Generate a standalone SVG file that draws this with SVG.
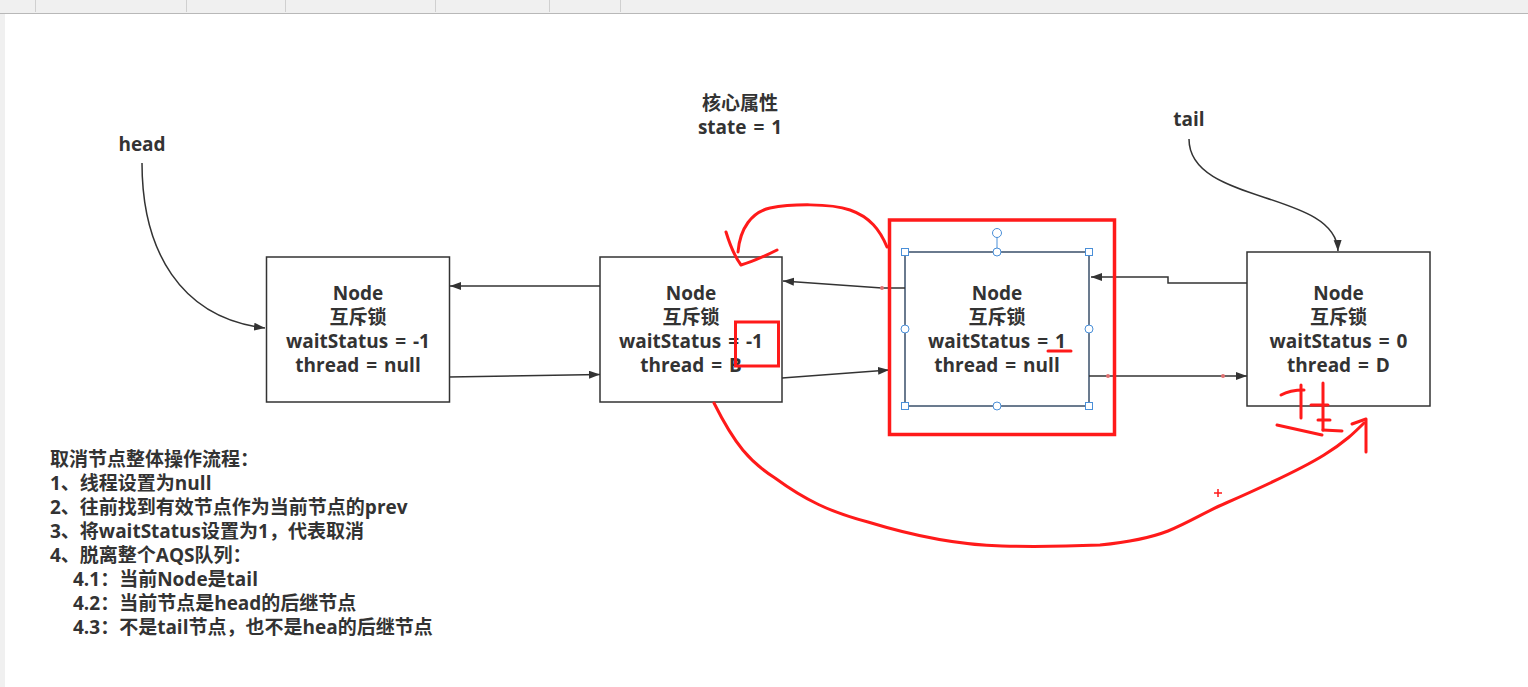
<svg xmlns="http://www.w3.org/2000/svg" width="1528" height="687" viewBox="0 0 1528 687">
<style>
.txt{font-family:"Open Sans","Noto Sans CJK SC",sans-serif;font-weight:bold;font-size:19px;fill:#333}
.ctr{text-anchor:middle}
.ws{word-spacing:2px}
.box{fill:#fff;stroke:#333;stroke-width:1.5}
.con{fill:none;stroke:#333;stroke-width:1.5}
.red{fill:none;stroke:#ff1a1a;stroke-width:3;stroke-linecap:round;stroke-linejoin:round}
.hs{fill:#fff;stroke:#4a8fd8;stroke-width:1}
.dot{fill:#e07070}
</style>
<defs>
<marker id="ah" markerUnits="userSpaceOnUse" markerWidth="12" markerHeight="9" refX="11" refY="4" orient="auto">
<path d="M0,0 L11,4 L0,8 z" fill="#333"/>
</marker>
</defs>
<rect x="0" y="0" width="1528" height="687" fill="#fff"/>
<g id="toolbar">
<rect x="0" y="0" width="1528" height="13" fill="#f0f0f0"/>
<rect x="0" y="13" width="5" height="674" fill="#f0f0f0"/>
<line x1="0" y1="13.5" x2="1528" y2="13.5" stroke="#b8b8b8" stroke-width="1"/>
<g stroke="#d0d0d0" stroke-width="1">
<line x1="35.5" y1="0" x2="35.5" y2="12"/>
<line x1="186.5" y1="0" x2="186.5" y2="12"/>
<line x1="285.5" y1="0" x2="285.5" y2="12"/>
<line x1="435.5" y1="0" x2="435.5" y2="12"/>
<line x1="549.5" y1="0" x2="549.5" y2="12"/>
<line x1="620.5" y1="0" x2="620.5" y2="12"/>
</g>
</g>

<g id="labels">
<text class="txt ctr" x="142" y="151">head</text>
<text class="txt ctr" x="1189" y="126">tail</text>
<text class="txt ctr" x="740" y="110">核心属性</text>
<text class="txt ctr ws" x="740" y="134">state = 1</text>
</g>

<g id="node1">
<rect class="box" x="266.5" y="257" width="183" height="145"/>
<text class="txt ctr" x="358" y="300">Node</text>
<text class="txt ctr" x="358" y="324">互斥锁</text>
<text class="txt ctr ws" x="358" y="348">waitStatus = -1</text>
<text class="txt ctr ws" x="358" y="372">thread = null</text>
</g>

<g id="node2">
<rect class="box" x="600" y="257" width="182" height="145"/>
<text class="txt ctr" x="691" y="300">Node</text>
<text class="txt ctr" x="691" y="324">互斥锁</text>
<text class="txt ctr ws" x="691" y="348">waitStatus = -1</text>
<text class="txt ctr ws" x="691" y="372">thread = B</text>
</g>

<g id="node3">
<rect x="905" y="252" width="184" height="154" fill="#fff" stroke="#3a4f6a" stroke-width="1.5"/>
<text class="txt ctr" x="997" y="300">Node</text>
<text class="txt ctr" x="997" y="324">互斥锁</text>
<text class="txt ctr ws" x="997" y="348">waitStatus = 1</text>
<text class="txt ctr ws" x="997" y="372">thread = null</text>
<line x1="997" y1="237" x2="997" y2="252" stroke="#4a8fd8" stroke-width="1"/>
<circle class="hs" cx="997" cy="233" r="4.5"/>
<rect class="hs" x="901.5" y="248.5" width="7" height="7"/>
<rect class="hs" x="1085.5" y="248.5" width="7" height="7"/>
<rect class="hs" x="901.5" y="402.5" width="7" height="7"/>
<rect class="hs" x="1085.5" y="402.5" width="7" height="7"/>
<circle class="hs" cx="997" cy="252" r="4"/>
<circle class="hs" cx="997" cy="406" r="4"/>
<circle class="hs" cx="905" cy="329" r="4"/>
<circle class="hs" cx="1089" cy="329" r="4"/>
</g>

<g id="node4">
<rect class="box" x="1247" y="252" width="183" height="154"/>
<text class="txt ctr" x="1338.5" y="300">Node</text>
<text class="txt ctr" x="1338.5" y="324">互斥锁</text>
<text class="txt ctr ws" x="1338.5" y="348">waitStatus = 0</text>
<text class="txt ctr ws" x="1338.5" y="372">thread = D</text>
</g>

<g id="connectors">
<path class="con" d="M142,163 C142,250 180,318 265,328" marker-end="url(#ah)"/>
<path class="con" d="M600,286 L450,286" marker-end="url(#ah)"/>
<path class="con" d="M449,377 L600,374.5" marker-end="url(#ah)"/>
<path class="con" d="M905,288 L882,288 L783,281" marker-end="url(#ah)"/>
<path class="con" d="M782,378 L889,370" marker-end="url(#ah)"/>
<path class="con" d="M1247,283 L1168,283 L1168,277 L1091,277" marker-end="url(#ah)"/>
<path class="con" d="M1089,376 L1247,376" marker-end="url(#ah)"/>
<path class="con" d="M1189,139 C1189,205 1336,190 1338,251" marker-end="url(#ah)"/>
<circle class="dot" cx="882" cy="288" r="2"/>
<circle class="dot" cx="1108" cy="376" r="2"/>
<circle class="dot" cx="1223" cy="376" r="2"/>
</g>

<g id="annotations">
<rect x="889.5" y="220" width="225" height="214.5" fill="none" stroke="#ff1a1a" stroke-width="3.5"/>
<rect x="735.5" y="322" width="43" height="44" fill="none" stroke="#ff1a1a" stroke-width="3"/>
<path class="red" d="M1048,351 L1071,351"/>
<path class="red" d="M887,247 C880,230 870,217 850,210 C830,203 790,204 770,208 C752,212 740,228 738,252"/>
<path class="red" d="M726,232 C730,245 735,257 741,265 C752,262 765,256 777,250"/>
<path class="red" d="M714,403 C735,445 750,462 775,478 C805,500 830,512 868,522 C920,538 960,545 1002,546 C1040,547 1075,546 1100,545 C1130,542 1150,538 1168,531 C1190,522 1205,512 1226,503 C1260,488 1300,470 1324,455 C1345,442 1355,432 1364,423"/>
<path class="red" d="M1352,424 L1366,419 L1366,452"/>
<path d="M1214,493 L1222,493 M1218,489 L1218,497" stroke="#ff1a1a" stroke-width="1.5" fill="none"/>
<path class="red" d="M1281,395 C1288,391 1295,390 1304,390"/>
<path class="red" d="M1301,385 L1301,418"/>
<path class="red" d="M1323,383 L1323,430"/>
<path class="red" d="M1311,405 L1328,405"/>
<path class="red" d="M1318,420 L1330,420"/>
<path class="red" d="M1323,430 L1342,431"/>
<path class="red" d="M1277,425 L1322,435"/>
</g>

<g id="notes">
<text class="txt" x="50" y="466">取消节点整体操作流程：</text>
<text class="txt" x="50" y="490">1、线程设置为null</text>
<text class="txt" x="50" y="514">2、往前找到有效节点作为当前节点的prev</text>
<text class="txt" x="50" y="538">3、将waitStatus设置为1，代表取消</text>
<text class="txt" x="50" y="562">4、脱离整个AQS队列：</text>
<text class="txt" x="73" y="586">4.1：当前Node是tail</text>
<text class="txt" x="73" y="610">4.2：当前节点是head的后继节点</text>
<text class="txt" x="73" y="634">4.3：不是tail节点，也不是hea的后继节点</text>
</g>
</svg>
